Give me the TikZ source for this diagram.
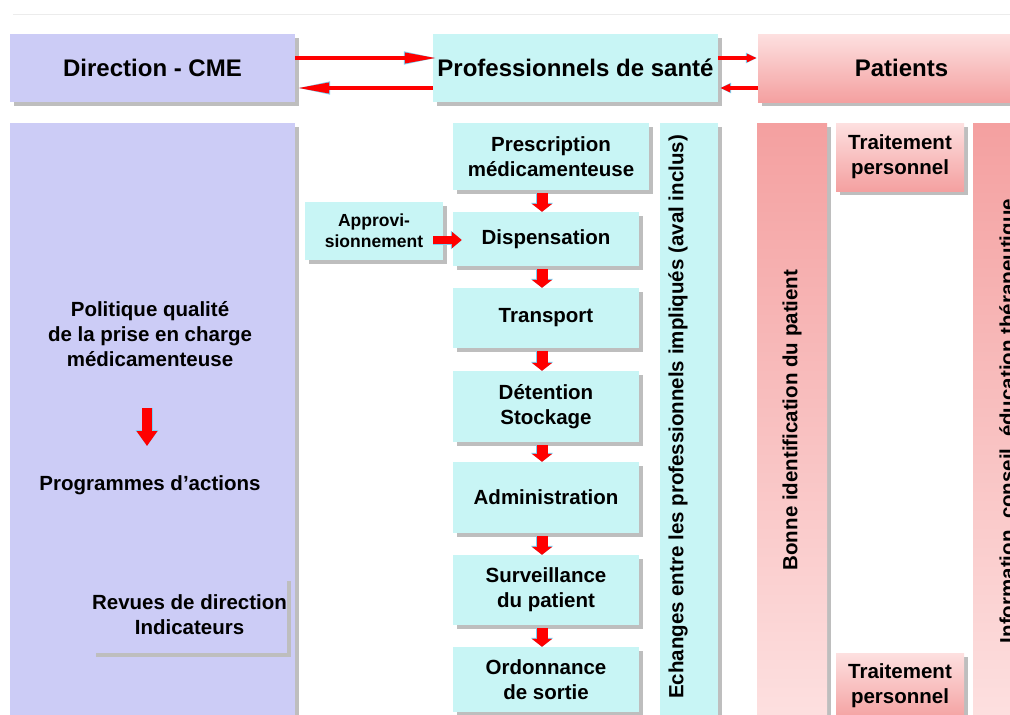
\documentclass[tikz,border=0pt]{standalone}
\usepackage{fontspec}
\setmainfont{Liberation Sans}
\usetikzlibrary{arrows.meta,shadows}
\definecolor{lav}{RGB}{204,204,246}
\definecolor{cyb}{RGB}{200,245,245}
\definecolor{pkd}{RGB}{244,160,160}
\definecolor{pkl}{RGB}{253,224,224}
\definecolor{shd}{RGB}{190,190,190}
\definecolor{outl}{RGB}{120,210,245}
\begin{document}
\begin{tikzpicture}[x=1pt,y=-1pt,
  shadowed/.style={general shadow={fill=shd, shadow xshift=3.5pt, shadow yshift=-3.5pt}},
  box/.style={shadowed, inner sep=0pt, align=center, font=\fontsize{20.5}{25}\selectfont\bfseries},
  lavbox/.style={box, fill=lav},
  cybox/.style={box, fill=cyb},
  pinkdown/.style={box, top color=pkl, bottom color=pkd},
  pinkup/.style={box, top color=pkd, bottom color=pkl},
  titlefont/.style={font=\fontsize{24}{28}\selectfont\bfseries},
  txt/.style={align=center, inner sep=0pt, font=\fontsize{20.5}{25}\selectfont\bfseries},
  vtxt/.style={txt, rotate=90},
  longarrow/.style={draw=red, line width=3.5pt, -{Triangle[length=32pt,width=10pt]},
     preaction={draw=outl, line width=4.5pt, -{Triangle[length=33pt,width=12pt]}}},
  shortarrow/.style={draw=red, line width=3.5pt, -{Triangle[length=10pt,width=8pt]},
     preaction={draw=outl, line width=4.5pt, -{Triangle[length=11pt,width=10pt]}}},
  blockarrow/.style={draw=red, line width=11pt, -{Triangle[length=8pt,width=20pt]},
     preaction={draw=outl, line width=12pt, -{Triangle[length=9pt,width=22pt]}}},
  bigarrow/.style={draw=red, line width=10pt, -{Triangle[length=15pt,width=20pt]},
     preaction={draw=outl, line width=11pt, -{Triangle[length=16pt,width=22pt]}}},
  approarrow/.style={draw=red, line width=8pt, -{Triangle[length=10pt,width=16pt]},
     preaction={draw=outl, line width=9pt, -{Triangle[length=11pt,width=18pt]}}}
]
\useasboundingbox (0,0) rectangle (1010,715);
\clip (0,0) rectangle (1010,715);
\fill[white] (0,0) rectangle (1010,715);
\draw[gray!15, line width=1pt] (13,14) -- (1010,14);

% top row
\node[lavbox, titlefont, minimum width=285pt, minimum height=68pt] (dir) at (152.5,68) {Direction - CME};
\node[cybox, titlefont, minimum width=285pt, minimum height=68pt] (prof) at (575.5,68) {Professionnels de santé};
\node[pinkdown, titlefont, minimum width=287pt, minimum height=68pt] (pat) at (901.5,68) {};
\node[txt, titlefont] (patt) at (901.5,68) {Patients};

\draw[longarrow] ([yshift=10pt]dir.east) -- ([xshift=4pt,yshift=10pt]prof.west);
\draw[longarrow] ([yshift=-20pt]prof.west) -- ([xshift=2pt,yshift=-20pt]dir.east);
\draw[shortarrow] ([yshift=10pt]prof.east) -- ([xshift=-1pt,yshift=10pt]pat.west);
\draw[shortarrow] ([yshift=-20pt]pat.west) -- ([xshift=2pt,yshift=-20pt]prof.east);

% left panel
\node[lavbox, minimum width=285pt, minimum height=600pt] (left) at (152.5,423) {};
\node[txt] (pol) at (150,334) {Politique qualité\\de la prise en charge\\médicamenteuse};
\node[txt] (prog) at (150,485) {Programmes d’actions};
\coordinate (la1) at (147,408);
\coordinate (la2) at (147,446);
\draw[bigarrow] (la1) -- (la2);
\node[lavbox, minimum width=195pt, minimum height=76pt] (rev) at (189.5,615) {Revues de direction\\Indicateurs};

% approvisionnement
\node[cybox, minimum width=138pt, minimum height=58pt, font=\fontsize{17.5}{21}\selectfont\bfseries] (appro) at (374,231) {Approvi-\\sionnement};

% steps
\node[cybox, minimum width=196pt, minimum height=67pt] (presc) at (551,156.5) {Prescription\\médicamenteuse};
\node[cybox, minimum width=186pt, minimum height=54pt] (disp) at (546,239) {Dispensation};
\node[cybox, minimum width=186pt, minimum height=60pt] (trans) at (546,318) {Transport};
\node[cybox, minimum width=186pt, minimum height=71pt] (deten) at (546,406.5) {Détention\\Stockage};
\node[cybox, minimum width=186pt, minimum height=71pt] (admin) at (546,497.5) {Administration};
\node[cybox, minimum width=186pt, minimum height=70pt] (surv) at (546,590) {Surveillance\\du patient};
\node[cybox, minimum width=186pt, minimum height=65pt] (ordo) at (546,679.5) {Ordonnance\\de sortie};

\draw[approarrow] ([xshift=-10pt,yshift=-9pt]appro.east) -- ([xshift=9pt,yshift=-1pt]disp.west);

\draw[blockarrow] ([xshift=-9pt,yshift=-3pt]presc.south) -- ([xshift=-4pt]disp.north);
\draw[blockarrow] ([xshift=-4pt,yshift=-3pt]disp.south) -- ([xshift=-4pt]trans.north);
\draw[blockarrow] ([xshift=-4pt,yshift=-3pt]trans.south) -- ([xshift=-4pt]deten.north);
\draw[blockarrow] ([xshift=-4pt,yshift=-3pt]deten.south) -- ([xshift=-4pt]admin.north);
\draw[blockarrow] ([xshift=-4pt,yshift=-3pt]admin.south) -- ([xshift=-4pt]surv.north);
\draw[blockarrow] ([xshift=-4pt,yshift=-3pt]surv.south) -- ([xshift=-4pt]ordo.north);

% echanges column
\node[cybox, minimum width=58pt, minimum height=597pt] (ech) at (689,421.5) {};
\node[vtxt] (echt) at (678,417) {Echanges entre les professionnels impliqués (aval inclus)};

% patients columns
\node[pinkup, minimum width=70pt, minimum height=597pt] (bon) at (792,421.5) {};
\node[vtxt] (bont) at (792,420) {Bonne identification du patient};
\node[pinkdown, minimum width=128pt, minimum height=68pt] (tp1) at (900,157) {};
\node[txt] (tp1t) at (900,157) {Traitement\\personnel};
\node[pinkdown, minimum width=128pt, minimum height=67pt] (tp2) at (900,686.5) {};
\node[txt] (tp2t) at (900,686) {Traitement\\personnel};
\node[pinkup, minimum width=70pt, minimum height=597pt] (info) at (1008,421.5) {};
\node[vtxt] (infot) at (1009,421) {Information, conseil, éducation thérapeutique};
\end{tikzpicture}
\end{document}
